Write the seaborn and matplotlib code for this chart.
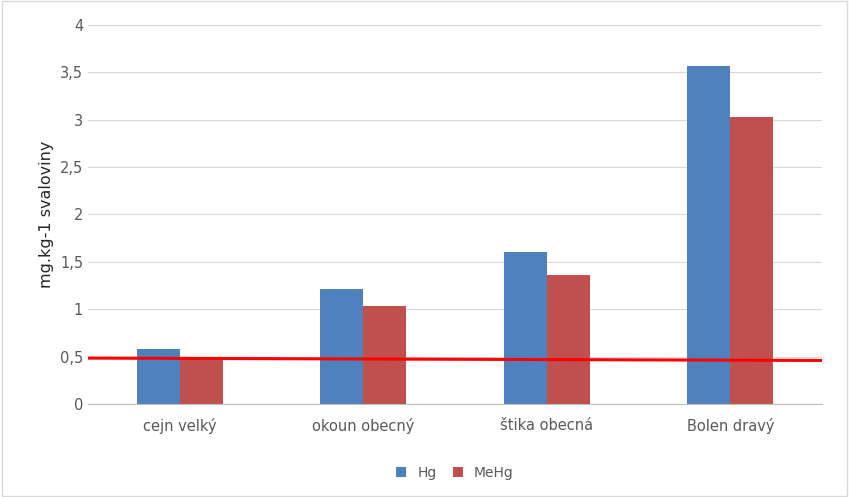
import matplotlib
matplotlib.use("Agg")
import matplotlib.pyplot as plt
import seaborn as sns
import pandas as pd
from matplotlib.patches import Rectangle

categories = ["cejn velký", "okoun obecný", "štika obecná", "Bolen dravý"]
hg = [0.58, 1.21, 1.60, 3.57]
mehg = [0.49, 1.03, 1.36, 3.03]
limit_start, limit_end = 0.485, 0.46
yticks = [0, 0.5, 1, 1.5, 2, 2.5, 3, 3.5, 4]

df = pd.DataFrame({"cat": categories * 2, "val": hg + mehg,
                   "series": ["Hg"] * 4 + ["MeHg"] * 4})

fig = plt.figure(figsize=(8.49, 4.97), dpi=100)
fig.patches.append(Rectangle((0.002, 0.002), 0.996, 0.996, transform=fig.transFigure,
                             fill=False, edgecolor="#d9d9d9", lw=1))
ax = fig.add_axes([0.1037, 0.187, 0.8645, 0.763])
sns.barplot(data=df, x="cat", y="val", hue="series", palette=["#4F81BD", "#C0504D"],
            width=0.47, ax=ax, saturation=1, legend=True)
ax.set_xlim(-0.5, 3.5)
ax.set_ylim(0, 4)
ax.set_yticks(yticks)
ax.set_yticklabels([str(t).replace(".", ",").replace(",0", "") if t != 0 else "0" for t in yticks])
ax.grid(axis="y", color="#d9d9d9", lw=0.8)
ax.set_axisbelow(True)
for s in ["top", "right", "left"]:
    ax.spines[s].set_visible(False)
ax.spines["bottom"].set_color("#bfbfbf")
ax.tick_params(length=0, colors="#595959", labelsize=10.5)
ax.tick_params(axis="x", pad=10)
ax.set_xlabel("")
ax.set_ylabel("mg.kg-1 svaloviny", fontsize=11.5, color="#262626")
ax.plot([-0.5, 3.5], [limit_start, limit_end], color="#FF0000", lw=2.2, zorder=5)
ax.legend(loc="upper center", bbox_to_anchor=(0.5, -0.13), ncol=2, frameon=False,
          fontsize=10, handlelength=0.7, handleheight=0.7, columnspacing=1.2,
          labelcolor="#595959")
fig.savefig("out.png", dpi=100)
